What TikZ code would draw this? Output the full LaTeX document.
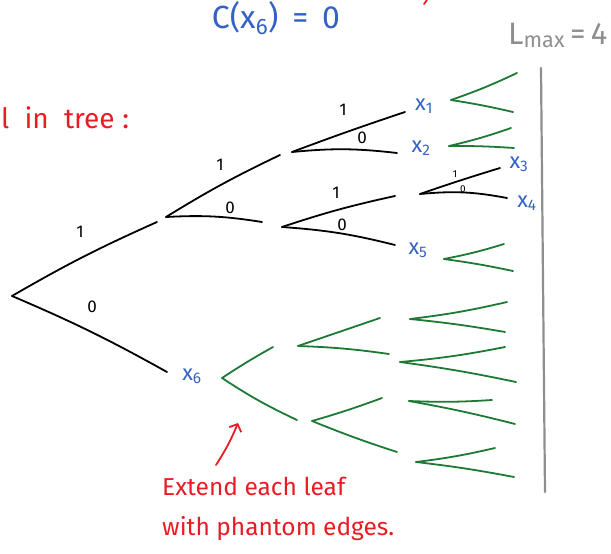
\documentclass[tikz,border=0pt]{standalone}
\usepackage{fontspec}
\setmainfont{Fira Sans}
\usetikzlibrary{arrows.meta}

\definecolor{inkblue}{RGB}{52,98,196}
\definecolor{inkred}{RGB}{232,28,36}
\definecolor{inkgreen}{RGB}{28,122,52}
\definecolor{inkgray}{RGB}{142,142,142}

\tikzset{
  edge/.style={black, line width=1.8pt, line cap=round},
  phantom/.style={inkgreen, line width=1.8pt, line cap=round},
  bit/.style={inner sep=0pt, font=\fontsize{17}{17}\selectfont},
  smallbit/.style={inner sep=0pt, font=\fontsize{10}{10}\selectfont},
  leaf/.style={inkblue, inner sep=0pt, font=\fontsize{22}{22}\selectfont},
  note/.style={inkred, inner sep=0pt, font=\fontsize{24.5}{24.5}\selectfont},
}

\begin{document}
\begin{tikzpicture}[x=1pt, y=-1pt]
\clip (0,0) rectangle (611,554);

% captions on top
\node[inkblue, inner sep=0pt, font=\fontsize{32}{32}\selectfont] (cost) at (276,18) {C(x\textsubscript{6}) \,=\, 0};
\node[inkgray, inner sep=0pt, anchor=base west, font=\fontsize{31}{31}\selectfont] (lmax) at (508,44) {L\textsubscript{max}\,=\,4};
\node[note, anchor=base west, font=\fontsize{28}{28}\selectfont] (intree) at (1,128) {l\; in\; tree\;:};
\draw[inkred, line width=1.8pt, line cap=round] (424,4) -- (427,0);

% depth limit
\coordinate (lim-top) at (541,68);
\coordinate (lim-bot) at (545,492);
\draw[inkgray, line width=2.2pt, line cap=round] (lim-top) -- (lim-bot);

% real tree
\coordinate (r) at (12,296);
\coordinate (a-in) at (157,222);  \coordinate (a) at (166,217);
\coordinate (b-in) at (280,155);  \coordinate (b) at (292,152);
\coordinate (c-in) at (262,222);  \coordinate (c) at (282,227);
\coordinate (d-in) at (395,196);  \coordinate (d) at (420,194);
\coordinate (x1-in) at (405,112);
\coordinate (x2-in) at (397,153);
\coordinate (x3-in) at (500,168);
\coordinate (x4-in) at (507,198);
\coordinate (x5-in) at (395,245);
\coordinate (x6-in) at (167,372);

\draw[edge] (r) to[bend left=3] (a-in);
\draw[edge] (r) to[bend left=3] (x6-in);
\draw[edge] (a) to[bend left=3] (b-in);
\draw[edge] (a) to[bend left=6] (c-in);
\draw[edge] (b) to[bend left=1] (x1-in);
\draw[edge] (b) to[bend left=6] (x2-in);
\draw[edge] (c) to[bend left=3] (d-in);
\draw[edge] (c) to[bend left=5] (x5-in);
\draw[edge] (d) to[bend left=1] (x3-in);
\draw[edge] (d) to[bend left=8] (x4-in);

\node[bit] (e1) at (80,232) {1};
\node[bit] (e2) at (92,307) {0};
\node[bit] (e3) at (220,165) {1};
\node[bit] (e4) at (230,208) {0};
\node[bit] (e5) at (343,110) {1};
\node[bit] (e6) at (362,138) {0};
\node[bit] (e7) at (336,193) {1};
\node[bit] (e8) at (342,225) {0};
\node[smallbit] (e9) at (455,174) {1};
\node[smallbit] (e10) at (463,189) {0};

\node[leaf] (x1) at (424,106) {x\textsubscript{1}};
\node[leaf] (x2) at (421,148) {x\textsubscript{2}};
\node[leaf] (x3) at (519,164) {x\textsubscript{3}};
\node[leaf] (x4) at (527,203) {x\textsubscript{4}};
\node[leaf] (x5) at (418,250) {x\textsubscript{5}};
\node[leaf] (x6) at (192,376) {x\textsubscript{6}};

% phantom edges
\coordinate (g1) at (451,100);
\coordinate (g2) at (449,146);
\coordinate (g5) at (444,259);
\coordinate (p) at (222,378);
\coordinate (q-in) at (273,347);  \coordinate (q) at (298,346);
\coordinate (s-in) at (297,420);  \coordinate (s) at (312,421);
\coordinate (h-in) at (380,318);  \coordinate (h) at (410,319);
\coordinate (i-in) at (389,354);  \coordinate (i) at (400,362);
\coordinate (j-in) at (382,398);  \coordinate (j) at (409,401);
\coordinate (k-in) at (397,452);  \coordinate (k) at (416,462);

\draw[phantom] (p) to[bend left=2] (q-in);
\draw[phantom] (p) to[bend right=4] (s-in);
\draw[phantom] (q) -- (h-in);
\draw[phantom] (q) to[bend left=3] (i-in);
\draw[phantom] (s) to[bend right=2] (j-in);
\draw[phantom] (s) to[bend right=2] (k-in);

\foreach \g/\ux/\uy/\lx/\ly in {g1/517/73/513/112, g2/511/128/514/148, g5/504/244/513/271,
    h/507/302/505/332, i/505/347/516/382, j/492/400/515/424, k/495/448/514/477}{
  \coordinate (\g-up) at (\ux,\uy);
  \coordinate (\g-lo) at (\lx,\ly);
  \draw[phantom] (\g) to[bend right=3] (\g-up);
  \draw[phantom] (\g) to[bend left=2] (\g-lo);
}

% remark
\node[note, anchor=base west] (note1) at (162,495) {Extend each leaf};
\node[note, anchor=base west] (note2) at (162,535) {with phantom edges.};
\coordinate (tip-tail) at (216,465);
\coordinate (tip-head) at (238,423);
\draw[inkred, line width=1.8pt, line cap=round, -{Straight Barb[length=6pt,width=13pt]}] (tip-tail) to[bend right=5] (tip-head);
\end{tikzpicture}
\end{document}
